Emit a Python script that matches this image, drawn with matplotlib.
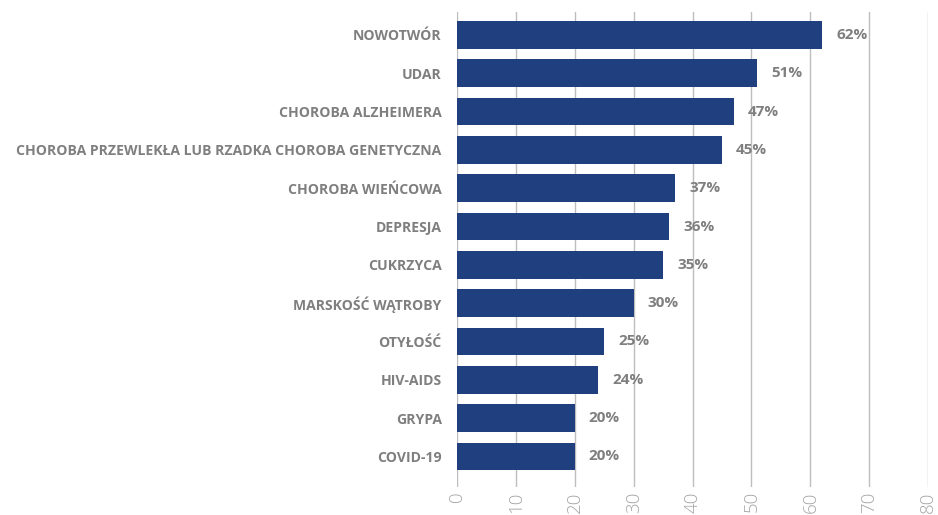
import matplotlib.pyplot as plt
import numpy as np

# data
categories = [
    "NOWOTWÓR",
    "UDAR",
    "CHOROBA ALZHEIMERA",
    "CHOROBA PRZEWLEKŁA LUB RZADKA CHOROBA GENETYCZNA",
    "CHOROBA WIEŃCOWA",
    "DEPRESJA",
    "CUKRZYCA",
    "MARSKOŚĆ WĄTROBY",
    "OTYŁOŚĆ",
    "HIV-AIDS",
    "GRYPA",
    "COVID-19",
]
values = [62, 51, 47, 45, 37, 36, 35, 30, 25, 24, 20, 20]
x_ticks = [0, 10, 20, 30, 40, 50, 60, 70, 80]

bar_color = "#1f3f7e"
label_color = "#7f7f7f"
grid_color = "#bdbdbd"

plt.rcParams['font.family'] = ['Open Sans', 'DejaVu Sans']

fig = plt.figure(figsize=(9.38, 5.15), dpi=100)
ax = fig.add_axes([457 / 938, 1 - 487 / 515, (928 - 457) / 938, (487 - 12) / 515])

y = np.arange(len(categories))
ax.barh(y, values, height=0.72, color=bar_color, zorder=3)

for yi, v in zip(y, values):
    ax.text(v + 2.4, yi, f"{v}%", va="center", ha="left",
            fontsize=11, fontweight="bold", color=label_color)

ax.set_yticks(y)
ax.set_yticklabels(categories, fontsize=10.1, fontweight="bold", color=label_color)
ax.set_ylim(11.8, -0.6)

ax.set_xlim(0, 80)
ax.set_xticks(x_ticks)
ax.set_xticklabels([str(t) for t in x_ticks], rotation=90, fontsize=13.5,
                   fontweight="light", color="#a6a6a6")
ax.xaxis.grid(True, color=grid_color, linewidth=1, zorder=0)
ax.tick_params(axis="y", length=0, pad=11)
ax.tick_params(axis="x", length=0, pad=3)
for s in ax.spines.values():
    s.set_visible(False)

fig.savefig("out.png", dpi=100)
